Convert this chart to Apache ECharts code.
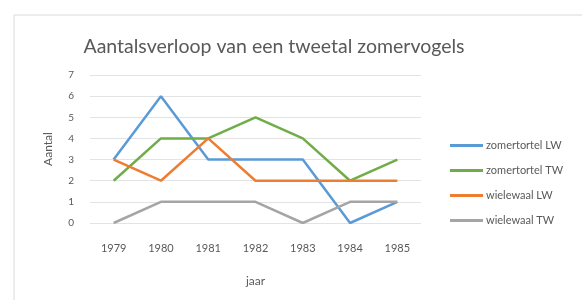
<!DOCTYPE html>
<html>
<head>
<meta charset="utf-8">
<script src="https://cdn.jsdelivr.net/npm/echarts@6/dist/echarts.min.js"></script>
<style>
  html, body { margin: 0; padding: 0; background: #fff; }
  #main { width: 582px; height: 300px; }
</style>
</head>
<body>
<div id="main"></div>
<script>
var years = ['1979', '1980', '1981', '1982', '1983', '1984', '1985'];
var zomertortelLW = [3, 6, 3, 3, 3, 0, 1];
var zomertortelTW = [2, 4, 4, 5, 4, 2, 3];
var wielewaalLW = [3, 2, 4, 2, 2, 2, 2];
var wielewaalTW = [0, 1, 1, 1, 0, 1, 1];

var chartDom = document.getElementById('main');
var myChart = echarts.init(chartDom);
var font = 'Lato, "Open Sans", sans-serif';

function line(name, data, color) {
  return {
    name: name,
    type: 'line',
    data: data,
    symbol: 'none',
    lineStyle: { width: 2.5, color: color },
    itemStyle: { color: color }
  };
}

var option = {
  animation: false,
  textStyle: { fontFamily: font },
  graphic: [{
    type: 'rect',
    shape: { x: 14, y: 15, width: 600, height: 320 },
    style: { fill: 'none', stroke: '#d9d9d9', lineWidth: 1 }
  }],
  title: {
    text: 'Aantalsverloop van een tweetal zomervogels',
    left: 269,
    textAlign: 'center',
    top: 32,
    textStyle: { fontSize: 19.5, fontWeight: 'normal', color: '#595959', fontFamily: font }
  },
  legend: {
    orient: 'vertical',
    left: 445,
    top: 135,
    itemWidth: 33,
    itemHeight: 3,
    itemGap: 14,
    icon: 'rect',
    textStyle: { fontSize: 11, color: '#595959', fontFamily: font, padding: [0, 0, 0, -2] }
  },
  grid: { left: 90, right: 161, top: 75, bottom: 77 },
  xAxis: {
    type: 'category',
    data: years,
    name: 'jaar',
    nameLocation: 'middle',
    nameGap: 52,
    nameTextStyle: { fontSize: 12, color: '#595959' },
    axisLine: { show: false },
    axisTick: { show: false },
    axisLabel: { fontSize: 11, color: '#595959', margin: 20 }
  },
  yAxis: {
    type: 'value',
    min: 0,
    max: 7,
    interval: 1,
    name: 'Aantal',
    nameLocation: 'middle',
    nameGap: 36,
    nameTextStyle: { fontSize: 12, color: '#595959' },
    axisLine: { show: false },
    axisTick: { show: false },
    axisLabel: { fontSize: 10, color: '#595959', margin: 16 },
    splitLine: { lineStyle: { color: '#e3e3e3' } }
  },
  series: [
    line('zomertortel LW', zomertortelLW, '#5B9BD5'),
    line('zomertortel TW', zomertortelTW, '#70AD47'),
    line('wielewaal LW', wielewaalLW, '#ED7D31'),
    line('wielewaal TW', wielewaalTW, '#A5A5A5')
  ]
};

option && myChart.setOption(option);
</script>
</body>
</html>
